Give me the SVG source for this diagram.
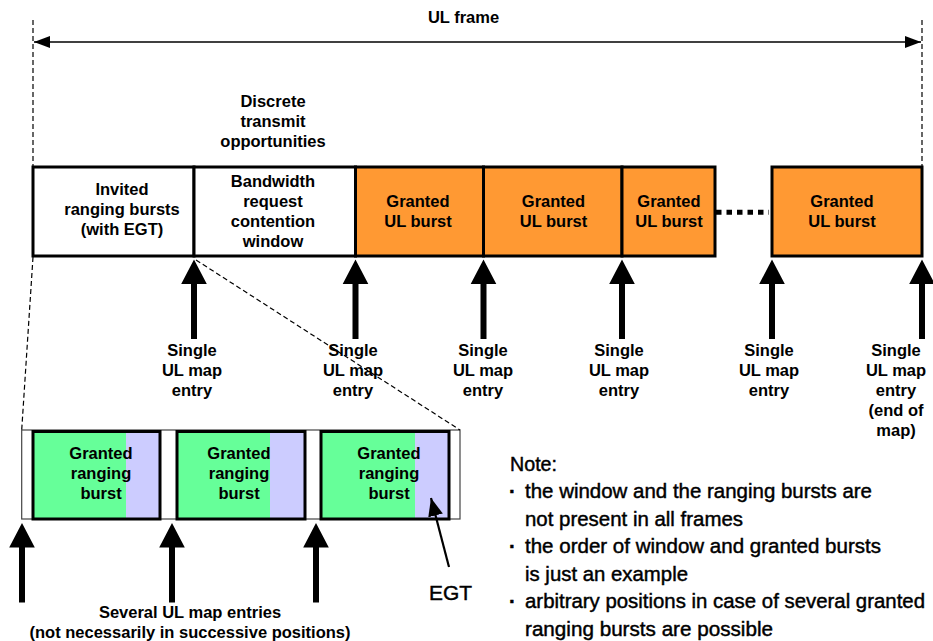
<svg xmlns="http://www.w3.org/2000/svg" xmlns:xlink="http://www.w3.org/1999/xlink" width="933" height="641" viewBox="0 0 933 641">
  <style>
    .lbl { font-family: "Liberation Sans", Arial, sans-serif; font-weight: bold; font-size: 16.5px; fill: #000; text-anchor: middle; }
    .note { font-family: "Liberation Sans", Arial, sans-serif; font-size: 20.5px; fill: #000; stroke: #000; stroke-width: 0.45; }
    .box { stroke: #000; stroke-width: 3; }
    .white { fill: #fff; }
    .orange { fill: #ff9933; }
    .green { fill: #66ff99; }
    .egt { fill: #ccccff; }
    .guide { fill: none; stroke: #000; stroke-width: 1.2; stroke-dasharray: 5 3; }
  </style>
  <defs>
    <marker id="tri" viewBox="0 0 16 12" refX="16" refY="6" markerWidth="16" markerHeight="12" markerUnits="userSpaceOnUse" orient="auto-start-reverse">
      <path d="M0,0 L16,6 L0,12 Z" fill="#000"/>
    </marker>
    <marker id="tri-egt" viewBox="0 0 18 15" refX="18" refY="7.5" markerWidth="18" markerHeight="15" markerUnits="userSpaceOnUse" orient="auto">
      <path d="M0,0 L18,7.5 L0,15 Z" fill="#000"/>
    </marker>
    <!-- thick upward map-entry arrow, tip at origin -->
    <path id="up" d="M0,0 L12.8,24.5 L3,24.5 L3,79.5 L-3,79.5 L-3,24.5 L-12.8,24.5 Z" fill="#000"/>
  </defs>

  <rect width="933" height="641" fill="#fff"/>

  <!-- frame extent -->
  <g id="frame">
    <line class="guide" x1="33" y1="20" x2="33" y2="167"/>
    <line class="guide" x1="922" y1="20" x2="922" y2="167"/>
    <line x1="34" y1="42" x2="921" y2="42" stroke="#000" stroke-width="1.5" marker-start="url(#tri)" marker-end="url(#tri)"/>
    <text class="lbl" x="463.5" y="23">UL frame</text>
  </g>

  <g id="discrete-label">
    <text class="lbl" x="273" y="107">Discrete</text>
    <text class="lbl" x="273" y="127">transmit</text>
    <text class="lbl" x="273" y="147">opportunities</text>
  </g>

  <!-- UL frame slots -->
  <g id="invited-ranging">
    <rect class="box white" x="33" y="167" width="161" height="89"/>
    <text class="lbl" x="122" y="195">Invited</text>
    <text class="lbl" x="122" y="215">ranging bursts</text>
    <text class="lbl" x="122" y="235">(with EGT)</text>
  </g>
  <g id="contention-window">
    <rect class="box white" x="194" y="167" width="161.5" height="89"/>
    <text class="lbl" x="273" y="187">Bandwidth</text>
    <text class="lbl" x="273" y="207">request</text>
    <text class="lbl" x="273" y="227">contention</text>
    <text class="lbl" x="273" y="247">window</text>
  </g>
  <g id="burst-1">
    <rect class="box orange" x="355.5" y="167" width="128" height="89"/>
    <text class="lbl" x="418" y="207">Granted</text>
    <text class="lbl" x="418" y="227">UL burst</text>
  </g>
  <g id="burst-2">
    <rect class="box orange" x="483.5" y="167" width="138.5" height="89"/>
    <text class="lbl" x="553.5" y="207">Granted</text>
    <text class="lbl" x="553.5" y="227">UL burst</text>
  </g>
  <g id="burst-3">
    <rect class="box orange" x="622" y="167" width="93" height="89"/>
    <text class="lbl" x="669" y="207">Granted</text>
    <text class="lbl" x="669" y="227">UL burst</text>
  </g>
  <g id="burst-last">
    <rect class="box orange" x="772" y="167" width="150" height="89"/>
    <text class="lbl" x="842" y="207">Granted</text>
    <text class="lbl" x="842" y="227">UL burst</text>
  </g>

  <!-- detail of the invited ranging region -->
  <g id="ranging-detail">
    <rect x="21.7" y="430" width="438.3" height="89" fill="#fff" stroke="#444" stroke-width="1.2"/>
  </g>
  <g id="ranging-burst-1">
    <rect class="green" x="33" y="431.5" width="93" height="87.5"/>
    <rect class="egt" x="126" y="431.5" width="34" height="87.5"/>
    <rect class="box" fill="none" x="33" y="431.5" width="127" height="87.5"/>
    <text class="lbl" x="101" y="459">Granted</text>
    <text class="lbl" x="101" y="479">ranging</text>
    <text class="lbl" x="101" y="499">burst</text>
  </g>
  <g id="ranging-burst-2">
    <rect class="green" x="177" y="431.5" width="93" height="87.5"/>
    <rect class="egt" x="270" y="431.5" width="35" height="87.5"/>
    <rect class="box" fill="none" x="177" y="431.5" width="128" height="87.5"/>
    <text class="lbl" x="239" y="459">Granted</text>
    <text class="lbl" x="239" y="479">ranging</text>
    <text class="lbl" x="239" y="499">burst</text>
  </g>
  <g id="ranging-burst-3">
    <rect class="green" x="321" y="431.5" width="94" height="87.5"/>
    <rect class="egt" x="415" y="431.5" width="34" height="87.5"/>
    <rect class="box" fill="none" x="321" y="431.5" width="128" height="87.5"/>
    <text class="lbl" x="389" y="459">Granted</text>
    <text class="lbl" x="389" y="479">ranging</text>
    <text class="lbl" x="389" y="499">burst</text>
  </g>

  <!-- connectors -->
  <g id="connectors">
    <line class="guide" x1="33" y1="257" x2="21.7" y2="430"/>
    <line class="guide" x1="196" y1="260" x2="460" y2="430"/>
    <line x1="716" y1="212.3" x2="769" y2="212.3" stroke="#000" stroke-width="5" stroke-dasharray="5.5 5"/>
    <use xlink:href="#up" x="194" y="259.5"/>
    <use xlink:href="#up" x="355.5" y="259.5"/>
    <use xlink:href="#up" x="483.5" y="259.5"/>
    <use xlink:href="#up" x="622" y="259.5"/>
    <use xlink:href="#up" x="772" y="259.5"/>
    <use xlink:href="#up" x="922" y="259.5"/>
    <use xlink:href="#up" x="22" y="523"/>
    <use xlink:href="#up" x="172" y="523"/>
    <use xlink:href="#up" x="316" y="523"/>
    <line x1="449" y1="567" x2="431" y2="498" stroke="#000" stroke-width="2.2" marker-end="url(#tri-egt)"/>
  </g>

  <!-- map entry labels -->
  <g id="entry-1">
    <text class="lbl" x="192" y="356">Single</text>
    <text class="lbl" x="192" y="376">UL map</text>
    <text class="lbl" x="192" y="396">entry</text>
  </g>
  <g id="entry-2">
    <text class="lbl" x="353" y="356">Single</text>
    <text class="lbl" x="353" y="376">UL map</text>
    <text class="lbl" x="353" y="396">entry</text>
  </g>
  <g id="entry-3">
    <text class="lbl" x="483" y="356">Single</text>
    <text class="lbl" x="483" y="376">UL map</text>
    <text class="lbl" x="483" y="396">entry</text>
  </g>
  <g id="entry-4">
    <text class="lbl" x="619" y="356">Single</text>
    <text class="lbl" x="619" y="376">UL map</text>
    <text class="lbl" x="619" y="396">entry</text>
  </g>
  <g id="entry-5">
    <text class="lbl" x="769" y="356">Single</text>
    <text class="lbl" x="769" y="376">UL map</text>
    <text class="lbl" x="769" y="396">entry</text>
  </g>
  <g id="entry-end">
    <text class="lbl" x="896" y="356">Single</text>
    <text class="lbl" x="896" y="376">UL map</text>
    <text class="lbl" x="896" y="396">entry</text>
    <text class="lbl" x="896" y="416">(end of</text>
    <text class="lbl" x="896" y="436">map)</text>
  </g>
  <g id="entries-several">
    <text class="lbl" x="190" y="618">Several UL map entries</text>
    <text class="lbl" x="190" y="638">(not necessarily in successive positions)</text>
  </g>

  <g id="egt-label">
    <text class="note" x="429" y="600" font-size="22" textLength="43" lengthAdjust="spacingAndGlyphs">EGT</text>
  </g>

  <!-- remarks -->
  <g id="note">
    <text class="note" x="510" y="471" font-size="21.5" textLength="47" lengthAdjust="spacingAndGlyphs">Note:</text>
    <text class="note" x="509" y="498" font-weight="bold">·</text>
    <text class="note" x="525" y="498" textLength="347" lengthAdjust="spacingAndGlyphs">the window and the ranging bursts are</text>
    <text class="note" x="525" y="525.5" textLength="218" lengthAdjust="spacingAndGlyphs">not present in all frames</text>
    <text class="note" x="509" y="553" font-weight="bold">·</text>
    <text class="note" x="525" y="553" textLength="356" lengthAdjust="spacingAndGlyphs">the order of window and granted bursts</text>
    <text class="note" x="525" y="580.5" textLength="163" lengthAdjust="spacingAndGlyphs">is just an example</text>
    <text class="note" x="509" y="608" font-weight="bold">·</text>
    <text class="note" x="525" y="608" textLength="400" lengthAdjust="spacingAndGlyphs">arbitrary positions in case of several granted</text>
    <text class="note" x="525" y="635.5" textLength="248" lengthAdjust="spacingAndGlyphs">ranging bursts are possible</text>
  </g>
</svg>
